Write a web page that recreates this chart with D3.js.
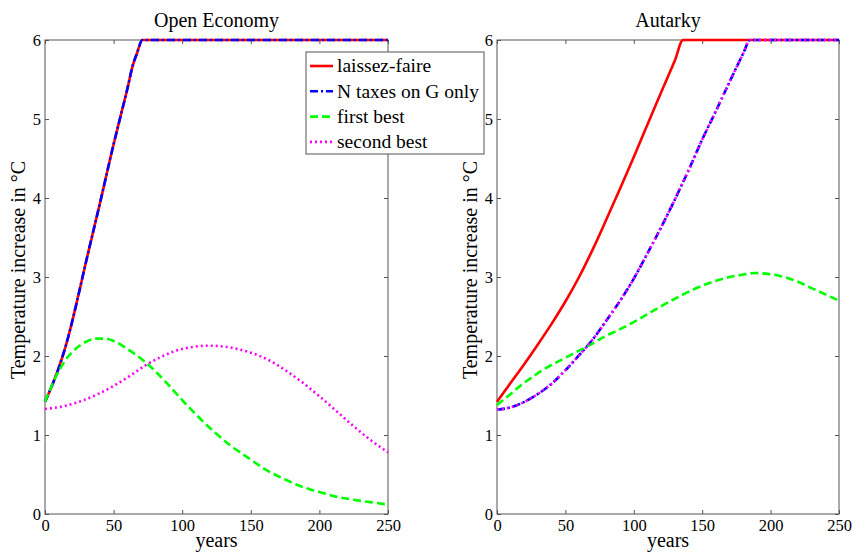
<!DOCTYPE html>
<html>
<head>
<meta charset="utf-8">
<script src="https://cdn.jsdelivr.net/npm/d3@7"></script>
<style>
  body { margin: 0; background: #fff; }
</style>
</head>
<body>
<svg id="chart" width="852" height="552"></svg>
<script>
// series names (legend order)
const seriesNames = ["laissez-faire", "N taxes on G only", "first best", "second best"];
const xTicks = [0, 50, 100, 150, 200, 250];
const yTicks = [0, 1, 2, 3, 4, 5, 6];

// Open Economy
const openLfYears = [0, 5, 10, 15, 20, 25, 30, 40, 50, 55, 60, 64, 67, 71, 100, 150, 200, 250];
const openLfTemp  = [1.42, 1.62, 1.85, 2.12, 2.45, 2.82, 3.2, 3.93, 4.68, 5.03, 5.38, 5.68, 5.83, 6, 6, 6, 6, 6];
const openNtYears = [0, 5, 10, 15, 20, 25, 30, 40, 50, 55, 60, 64, 67, 71, 100, 150, 200, 250];
const openNtTemp  = [1.42, 1.62, 1.85, 2.12, 2.45, 2.82, 3.2, 3.93, 4.68, 5.03, 5.38, 5.68, 5.83, 6, 6, 6, 6, 6];
const openFbYears = [0, 8, 15, 23, 30, 37, 44, 50, 60, 74, 87, 99, 110, 122, 135, 149, 162, 176, 188, 200, 212, 225, 237, 250];
const openFbTemp  = [1.42, 1.74, 1.95, 2.10, 2.18, 2.22, 2.22, 2.19, 2.09, 1.91, 1.69, 1.46, 1.26, 1.06, 0.87, 0.70, 0.55, 0.43, 0.34, 0.28, 0.22, 0.18, 0.15, 0.12];
const openSbYears = [0, 15, 28, 40, 50, 62, 74, 86, 98, 110, 119, 130, 140, 152, 164, 176, 188, 200, 212, 225, 237, 250];
const openSbTemp  = [1.33, 1.37, 1.44, 1.53, 1.62, 1.75, 1.89, 2.00, 2.08, 2.12, 2.13, 2.12, 2.09, 2.03, 1.94, 1.81, 1.66, 1.49, 1.31, 1.11, 0.94, 0.78];

// Autarky
const autLfYears = [0, 10, 20, 30, 40, 50, 60, 70, 80, 90, 100, 110, 120, 130, 136, 150, 200, 250];
const autLfTemp  = [1.42, 1.66, 1.90, 2.15, 2.41, 2.69, 3.00, 3.35, 3.73, 4.12, 4.52, 4.93, 5.34, 5.74, 6, 6, 6, 6];
const autNtYears = [0, 10, 20, 30, 40, 50, 60, 70, 80, 90, 100, 110, 120, 130, 140, 150, 160, 170, 180, 185, 200, 250];
const autNtTemp  = [1.32, 1.35, 1.42, 1.52, 1.65, 1.82, 2.01, 2.21, 2.45, 2.70, 2.98, 3.30, 3.63, 3.98, 4.35, 4.74, 5.10, 5.47, 5.83, 6, 6, 6];
const autFbYears = [0, 10, 19, 28, 37, 48, 58, 68, 78, 90, 100, 110, 122, 134, 146, 158, 170, 180, 188, 198, 210, 220, 230, 240, 250];
const autFbTemp  = [1.38, 1.52, 1.65, 1.76, 1.86, 1.96, 2.05, 2.14, 2.24, 2.34, 2.43, 2.53, 2.65, 2.76, 2.86, 2.94, 3.00, 3.03, 3.05, 3.04, 3.00, 2.94, 2.86, 2.78, 2.70];
const autSbYears = [0, 10, 20, 30, 40, 50, 60, 70, 80, 90, 100, 110, 120, 130, 140, 150, 160, 170, 180, 185, 200, 250];
const autSbTemp  = [1.32, 1.35, 1.42, 1.52, 1.65, 1.82, 2.01, 2.21, 2.45, 2.70, 2.98, 3.30, 3.63, 3.98, 4.35, 4.74, 5.10, 5.47, 5.83, 6, 6, 6];

const styles = [
  { color: "#ff0000", dash: null,       width: 2.6 },
  { color: "#0000ff", dash: "8,3,2,3",  width: 2.6 },
  { color: "#00ff00", dash: "8,4",      width: 2.6 },
  { color: "#ff00ff", dash: "2,3",      width: 2.6 }
];

const serif = '"Liberation Serif", "Times New Roman", serif';
const zip = (xs, ys) => xs.map((x, i) => ({ x: x, y: ys[i] }));

const panels = [
  { title: "Open Economy", left: 45, right: 388,
    series: [zip(openLfYears, openLfTemp), zip(openNtYears, openNtTemp), zip(openFbYears, openFbTemp), zip(openSbYears, openSbTemp)] },
  { title: "Autarky", left: 497, right: 839,
    series: [zip(autLfYears, autLfTemp), zip(autNtYears, autNtTemp), zip(autFbYears, autFbTemp), zip(autSbYears, autSbTemp)] }
];

const plotTop = 40, plotBottom = 514;
const svg = d3.select("#chart").style("font-family", serif);

panels.forEach(p => {
  const x = d3.scaleLinear().domain([0, 250]).range([p.left, p.right]);
  const y = d3.scaleLinear().domain([0, 6]).range([plotBottom, plotTop]);
  const g = svg.append("g");

  // ticks (inward on all four sides)
  const axisStyle = sel => {
    sel.attr("font-family", serif).attr("font-size", 16.5);
    sel.select(".domain").remove();
    sel.selectAll("line").attr("stroke", "#555");
    sel.selectAll("text").attr("fill", "#000");
  };
  g.append("g").attr("transform", `translate(0,${plotBottom})`)
    .call(d3.axisBottom(x).tickValues(xTicks).tickFormat(d3.format("d")).tickSize(-4).tickPadding(5)).call(axisStyle);
  g.append("g").attr("transform", `translate(0,${plotTop})`)
    .call(d3.axisTop(x).tickValues(xTicks).tickSize(-4).tickFormat("")).call(axisStyle);
  g.append("g").attr("transform", `translate(${p.left},0)`)
    .call(d3.axisLeft(y).tickValues(yTicks).tickFormat(d3.format("d")).tickSize(-4).tickPadding(4)).call(axisStyle);
  g.append("g").attr("transform", `translate(${p.right},0)`)
    .call(d3.axisRight(y).tickValues(yTicks).tickSize(-4).tickFormat("")).call(axisStyle);

  g.append("rect")
    .attr("x", p.left).attr("y", plotTop)
    .attr("width", p.right - p.left).attr("height", plotBottom - plotTop)
    .attr("fill", "none").attr("stroke", "#555").attr("stroke-width", 1);

  const line = d3.line().x(d => x(d.x)).y(d => y(d.y)).curve(d3.curveMonotoneX);
  p.series.forEach((s, i) => {
    g.append("path").datum(s)
      .attr("d", line)
      .attr("fill", "none")
      .attr("stroke", styles[i].color)
      .attr("stroke-width", styles[i].width)
      .attr("stroke-dasharray", styles[i].dash);
  });

  g.append("text")
    .attr("x", (p.left + p.right) / 2).attr("y", 27)
    .attr("text-anchor", "middle")
    .attr("font-family", serif).attr("font-size", 20)
    .text(p.title);

  g.append("text")
    .attr("x", (p.left + p.right) / 2).attr("y", 547)
    .attr("text-anchor", "middle")
    .attr("font-family", serif).attr("font-size", 20)
    .text("years");

  g.append("text")
    .attr("transform", `translate(${p.left - 20},270) rotate(-90)`)
    .attr("text-anchor", "middle")
    .attr("font-family", serif).attr("font-size", 20)
    .text("Temperature increase in °C");
});

// legend
const legend = svg.append("g").attr("transform", "translate(306,52)");
legend.append("rect")
  .attr("width", 178).attr("height", 102)
  .attr("fill", "#fff").attr("stroke", "#555");
seriesNames.forEach((name, i) => {
  const row = legend.append("g").attr("transform", `translate(0,${14 + i * 25.3})`);
  row.append("line")
    .attr("x1", 4).attr("x2", 27).attr("y1", 0).attr("y2", 0)
    .attr("stroke", styles[i].color).attr("stroke-width", styles[i].width)
    .attr("stroke-dasharray", styles[i].dash);
  row.append("text")
    .attr("x", 31).attr("y", 0).attr("dy", "0.33em")
    .attr("font-family", serif).attr("font-size", 19.5)
    .text(name);
});
</script>
</body>
</html>
